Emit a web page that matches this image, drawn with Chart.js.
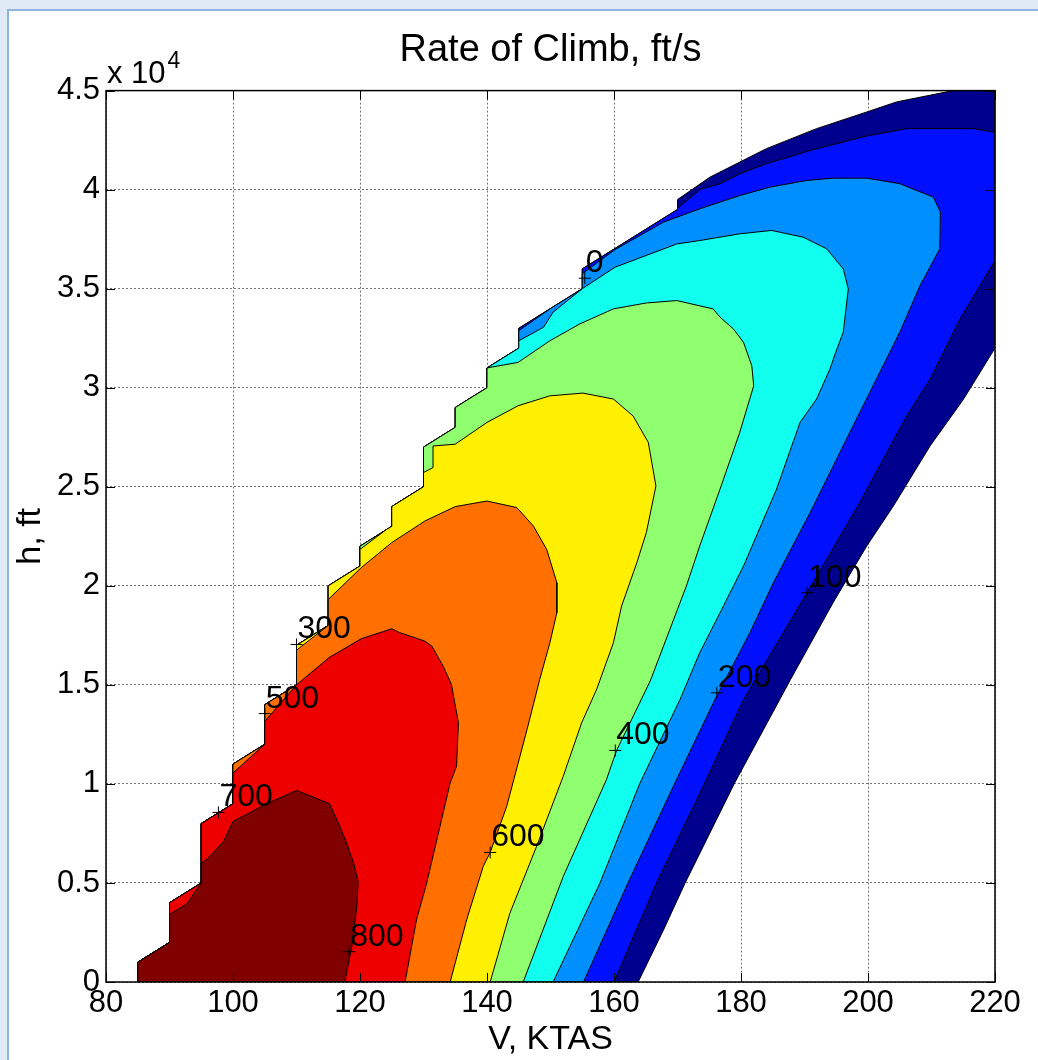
<!DOCTYPE html>
<html>
<head>
<meta charset="utf-8">
<script src="https://cdn.jsdelivr.net/npm/chart.js@4.4.0/dist/chart.umd.min.js"></script>
<style>
  html, body { margin: 0; padding: 0; }
  body { width: 1038px; height: 1060px; background: #dfeaf6; position: relative; overflow: hidden; }
  #painel { position: absolute; left: 7px; top: 9px; right: 0; bottom: 0; background: #fff;
            border-left: 2px solid #8fb4dd; border-top: 2px solid #8fb4dd; }
  #grafico { position: absolute; left: 0; top: 0; }
</style>
</head>
<body>
<div id="painel"></div>
<canvas id="grafico" width="1038" height="1060"></canvas>
<script>
// contorno esquerdo (escada) da região válida, [V (KTAS), h (ft)]
const bordaEsq = [[85,0],[85,1000],[90,2000],[90,4000],[95,5000],[95,8000],[100,9000],[100,11000],
  [105,12000],[105,14000],[110,15000],[110,17000],[115,18000],[115,20000],[120,21000],[120,22000],
  [125,23000],[125,24000],[130,25000],[130,27000],[135,28000],[135,29000],[140,30000],[140,31000],
  [145,32000],[145,33000],[155,35000],[155,36000],[160,37000],[170,39000],[170,39500],[175.1,40630],
  [179.8,41390],[184,42070],[191.9,43080],[199.8,43920],[204.5,44430],[213.4,45000]];

// níveis de razão de subida (ft/s) e cores (jet)
const niveis = [0, 100, 200, 300, 400, 500, 600, 700, 800];
const cores = ['#00008f', '#0010ff', '#008fff', '#10ffef', '#8fff70', '#ffef00', '#ff7000', '#ef0000', '#800000'];

// quantos pontos da escada cada região usa antes do seu contorno
const pontosEscada = [38, 30, 25, 25, 24, 15, 11, 7, 3];

// resto de cada região (acima do nível)
const regiao0 = [[220,45000],[220,32000],[215,29400],[209.8,27070],[204,24030],[199.8,22010],[194.5,19150],
  [187.8,15270],[186.1,14260],[179,10050],[171.2,5000],[167.8,2630],[163.8,0]];
const regiao100 = [[170,39070],[173.7,40040],[176.7,40300],[179.8,40800],[184,41310],[190.9,41980],[199.8,42710],
  [206.1,43080],[216.6,43080],[220,42900],[220,36420],[214.5,33470],[209.8,30440],[206.1,28580],[198.7,24200],
  [190.4,19650],[180.4,14260],[174.3,10050],[166.7,5000],[160,0]];
const regiao200 = [[145,32880],[149.9,33980],[155,35000],[155,35750],[157.8,36420],[160.2,36980],[167.8,38360],
  [173.5,39030],[179.8,39700],[184.6,40130],[190.3,40460],[194.5,40580],[199.8,40580],[205,40300],[210.3,39620],
  [211.4,38870],[211.3,37010],[208.2,35160],[205,32800],[200.8,30100],[196.6,27400],[190.9,23700],[185.1,20160],
  [181.4,17630],[175.9,14260],[169.6,10050],[162.2,5000],[155.2,0]];
const regiao300 = [[145,32370],[148.9,33050],[150.4,33810],[155,35000],[160.2,36090],[169.9,37260],[173.5,37430],
  [179.8,37770],[184.8,37940],[189.8,37600],[193.5,37010],[196.1,36000],[196.9,34990],[196.1,32800],[195.1,31950],
  [194,30940],[191.9,29430],[189.3,28250],[185.6,24880],[180.4,21000],[176.7,18640],[173.5,16620],[170.4,14260],
  [164.1,10050],[157.8,5000],[150.4,0]];
const regiao400 = [[144.9,31280],[149.9,32370],[154.6,33220],[159.9,33980],[165.1,34280],[169.9,34400],
  [175.6,33980],[176.7,33560],[178.8,32970],[180.4,32290],[181.7,31110],[182,30100],[179.8,27740],[176.7,24880],
  [173.5,22010],[171.4,19990],[165.7,15190],[160.4,11680],[158.8,10210],[152,5320],[145.7,0]];
const regiao500 = [[120,21840],[124.2,22850],[125,23000],[125,24000],[130,25000],[130,25720],[131.5,25970],
  [131.5,27060],[135,27150],[140,28250],[144.9,29090],[149.9,29590],[155.1,29730],[159.9,29430],[163,28580],
  [165.4,27240],[166.6,25040],[165.1,22690],[163.6,21170],[161.2,18980],[159.9,17120],[157.3,14800],
  [154.9,13080],[152,10380],[147.8,6840],[143.6,3470],[140.5,0]];
const regiao600 = [[110,16750],[115,18000],[115,19310],[120.2,20920],[125,22180],[129.4,23100],[130.2,23270],
  [135,24000],[140,24280],[144.7,23950],[147.3,23020],[149.4,21840],[151,20160],[151,18640],[149.9,17120],
  [148.3,15270],[146.3,12740],[143.1,8860],[140.5,6540],[139.4,5830],[136.8,3140],[134.2,0]];
const regiao700 = [[100,10550],[105,12000],[105,13160],[110,15000],[115.1,16370],[120.2,17330],[125,17830],
  [126.3,17630],[130.2,17210],[131.3,16960],[133.1,15940],[134.4,15020],[135.5,13080],[135.2,10890],
  [134.2,10050],[130.5,4990],[128.9,3140],[127.1,0]];
const regiao800 = [[90,3400],[92.7,3940],[95,5000],[95,6000],[96.1,6250],[98.5,7090],[100,8100],[105,8950],
  [110,9670],[115.2,9000],[116.6,8020],[117.9,7010],[119,6000],[119.7,5070],[119.5,3810],[118.7,1790],[117.6,0]];
const restos = [regiao0, regiao100, regiao200, regiao300, regiao400, regiao500, regiao600, regiao700, regiao800];

// rótulos dos contornos
const rotulosTexto = ['0', '100', '200', '300', '400', '500', '600', '700', '800'];
const rotulosV = [155.4, 190.4, 176.2, 110.0, 160.2, 105.0, 140.5, 97.7, 118.3];
const rotulosH = [35530, 19650, 14600, 17040, 11690, 13550, 6540, 8560, 1530];

const fonte = "'Liberation Sans', Arial, Helvetica, sans-serif";

const datasets = [];
datasets.push({
    type: 'scatter',
    data: rotulosV.map((v, i) => ({ x: v, y: rotulosH[i] })),
    pointStyle: 'cross',
    pointRadius: 6,
    borderColor: '#000',
    borderWidth: 1,
    showLine: false,
    order: 0
});
niveis.forEach((nivel, i) => {
    const pts = bordaEsq.slice(0, pontosEscada[i]).concat(restos[i]);
    pts.push(pts[0]);
    datasets.push({
        type: 'line',
        label: String(nivel),
        data: pts.map(p => ({ x: p[0], y: p[1] })),
        borderColor: '#000',
        borderWidth: 1,
        backgroundColor: cores[i],
        fill: 'shape',
        pointRadius: 0,
        tension: 0,
        order: niveis.length - i
    });
});

// moldura, marcas internas, rótulos e o fator x 10^4
const moldura = {
    id: 'moldura',
    afterDraw(chart) {
        const { ctx, chartArea: a, scales: { x, y } } = chart;
        ctx.save();
        ctx.fillStyle = '#000';
        ctx.textAlign = 'left';
        ctx.textBaseline = 'alphabetic';
        ctx.font = '32px ' + fonte;
        rotulosTexto.forEach((t, i) => {
            ctx.fillText(t, x.getPixelForValue(rotulosV[i]) + 1, y.getPixelForValue(rotulosH[i]) - 6);
        });

        ctx.strokeStyle = '#000';
        ctx.lineWidth = 1;
        ctx.beginPath();
        x.ticks.forEach(t => {
            const px = Math.round(x.getPixelForValue(t.value)) + 0.5;
            ctx.moveTo(px, a.bottom); ctx.lineTo(px, a.bottom - 9);
            ctx.moveTo(px, a.top); ctx.lineTo(px, a.top + 9);
        });
        y.ticks.forEach(t => {
            const py = Math.round(y.getPixelForValue(t.value)) + 0.5;
            ctx.moveTo(a.left, py); ctx.lineTo(a.left + 9, py);
            ctx.moveTo(a.right, py); ctx.lineTo(a.right - 9, py);
        });
        ctx.stroke();
        ctx.lineWidth = 1.5;
        ctx.strokeRect(a.left, a.top, a.right - a.left, a.bottom - a.top);

        ctx.font = '31px ' + fonte;
        ctx.fillText('x 10', a.left + 1, a.top - 8);
        const w = ctx.measureText('x 10').width;
        ctx.font = '23px ' + fonte;
        ctx.fillText('4', a.left + 3 + w, a.top - 23);
        ctx.restore();
    }
};

new Chart(document.getElementById('grafico'), {
    type: 'line',
    data: { datasets },
    options: {
        responsive: false,
        animation: false,
        events: [],
        layout: { padding: { left: 0, right: 43, top: 0, bottom: 0 } },
        scales: {
            x: {
                type: 'linear',
                min: 80,
                max: 220,
                z: 1,
                ticks: { stepSize: 20, color: '#000', font: { size: 31, family: fonte }, padding: 3, maxRotation: 0, autoSkip: false },
                grid: { color: 'rgba(0,0,0,0.55)', lineWidth: 1, drawTicks: false },
                border: { display: false, dash: [2, 2] },
                title: { display: true, text: 'V, KTAS', color: '#000', font: { size: 34, family: fonte }, padding: { top: 0, bottom: 0 } },
                afterFit(scale) { scale.height = 78; }
            },
            y: {
                type: 'linear',
                min: 0,
                max: 45000,
                z: 1,
                ticks: { stepSize: 5000, color: '#000', font: { size: 31, family: fonte }, padding: 6,
                         callback: v => String(v / 10000) },
                grid: { color: 'rgba(0,0,0,0.55)', lineWidth: 1, drawTicks: false },
                border: { display: false, dash: [2, 2] },
                title: { display: true, text: 'h, ft', color: '#000', font: { size: 34, family: fonte }, padding: { top: 10, bottom: 0 } },
                afterFit(scale) { scale.width = 106; }
            }
        },
        plugins: {
            legend: { display: false },
            tooltip: { enabled: false },
            title: {
                display: true,
                fullSize: false,
                text: 'Rate of Climb, ft/s',
                color: '#000',
                font: { size: 38, weight: 'normal', family: fonte },
                padding: { top: 28, bottom: 17 }
            }
        }
    },
    plugins: [moldura]
});
</script>
</body>
</html>
